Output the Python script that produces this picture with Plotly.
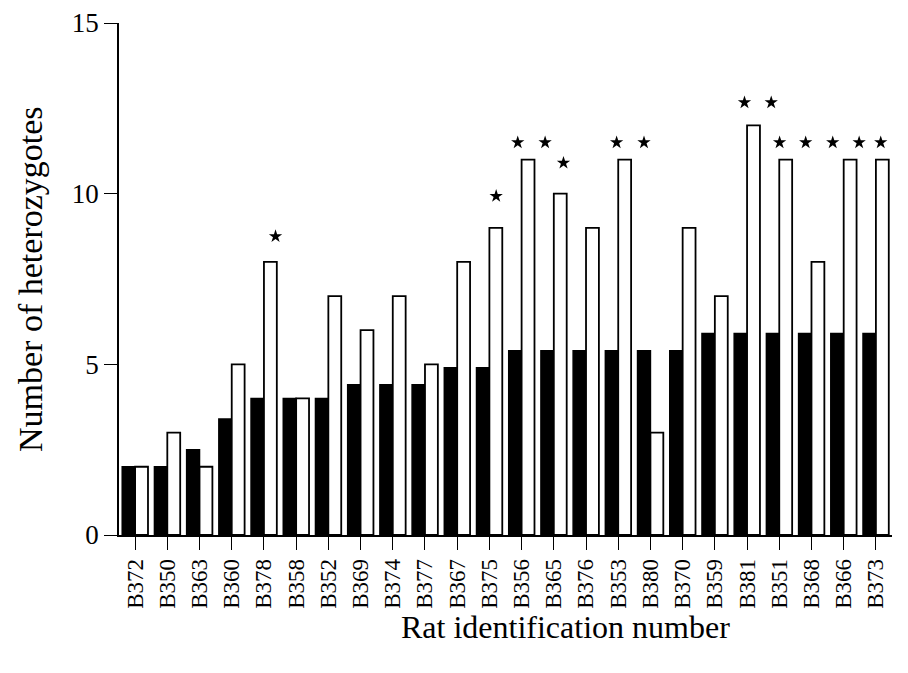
import plotly.graph_objects as go

# ---- data ----
rats = ["B372", "B350", "B363", "B360", "B378", "B358", "B352", "B369", "B374", "B377",
        "B367", "B375", "B356", "B365", "B376", "B353", "B380", "B370", "B359", "B381",
        "B351", "B368", "B366", "B373"]
black_vals = [2, 2, 2.5, 3.4, 4, 4, 4, 4.4, 4.4, 4.4,
              4.9, 4.9, 5.4, 5.4, 5.4, 5.4, 5.4, 5.4, 5.9, 5.9,
              5.9, 5.9, 5.9, 5.9]
white_vals = [2, 3, 2, 5, 8, 4, 7, 6, 7, 5,
              8, 9, 11, 10, 9, 11, 3, 9, 7, 12,
              11, 8, 11, 11]
# significance stars (position along category index, height)
star_x = [4.36, 11.21, 11.88, 12.73, 13.30, 14.95, 15.80, 18.92, 19.75, 20.01,
          20.82, 21.66, 22.48, 23.15, 23.95]
star_y = [8.75, 9.93, 11.5, 11.5, 10.9, 11.5, 11.5, 12.67, 12.67, 11.5,
          11.5, 11.5, 11.5, 11.5, 11.5]
y_ticks = [0, 5, 10, 15]

idx = list(range(len(rats)))
FONT = "Liberation Serif, Times New Roman, serif"

W, H = 900, 657
L, T, B = 111, 15, 130
axis_px = 773                     # width of the bar axis in pixels
area_px = W - L                   # plotting area reaches the right edge
dom_end = axis_px / area_px
x_lo, x_hi = -0.5, len(rats) - 0.5
x2_hi = x_lo + (x_hi - x_lo) / dom_end   # same scale, extended to the edge
plot_h = H - T - B

fig = go.Figure()
fig.add_trace(go.Bar(x=idx, y=black_vals, marker=dict(color="black", line=dict(color="black", width=1.5)),
                     showlegend=False))
fig.add_trace(go.Bar(x=idx, y=white_vals, marker=dict(color="white", line=dict(color="black", width=1.8)),
                     showlegend=False))
fig.add_trace(go.Scatter(x=star_x, y=star_y, mode="markers", xaxis="x2", yaxis="y",
                         marker=dict(symbol="star", size=10, color="black"),
                         cliponaxis=False, showlegend=False))

fig.update_layout(
    width=W, height=H,
    margin=dict(l=L, r=0, t=T, b=B, autoexpand=False),
    paper_bgcolor="white", plot_bgcolor="rgba(0,0,0,0)",
    barmode="group", bargap=0.2, bargroupgap=0,
    font=dict(family=FONT, color="black"),
    xaxis=dict(domain=[0, dom_end], range=[x_lo, x_hi], tickmode="array", tickvals=idx, ticktext=rats,
               tickangle=-90, ticks="outside", ticklen=13, tickwidth=1.3, tickcolor="black",
               showline=True, linecolor="black", linewidth=1.5, showgrid=False, zeroline=False,
               automargin=False,
               tickfont=dict(family=FONT, size=23, color="black")),
    xaxis2=dict(domain=[0, 1], range=[x_lo, x2_hi], anchor="y", visible=False,
                showgrid=False, zeroline=False, automargin=False),
    yaxis=dict(range=[0, 15], tickmode="array", tickvals=y_ticks, anchor="x",
               ticks="outside", ticklen=13, tickwidth=1.3, tickcolor="black",
               showline=True, linecolor="black", linewidth=1.5, showgrid=False, zeroline=False,
               automargin=False,
               tickfont=dict(family=FONT, size=27, color="black")),
    annotations=[
        dict(text="Rat identification number", xref="paper", yref="paper",
             x=(557 - L) / area_px, y=-(619 - (T + plot_h)) / plot_h,
             xanchor="center", yanchor="middle", showarrow=False,
             font=dict(family=FONT, size=32, color="black")),
        dict(text="Number of heterozygotes", xref="paper", yref="paper",
             x=(22 - L) / area_px, y=0.5, xanchor="center", yanchor="middle", textangle=-90,
             showarrow=False, font=dict(family=FONT, size=34, color="black")),
    ],
)

fig.write_html("out.html")
